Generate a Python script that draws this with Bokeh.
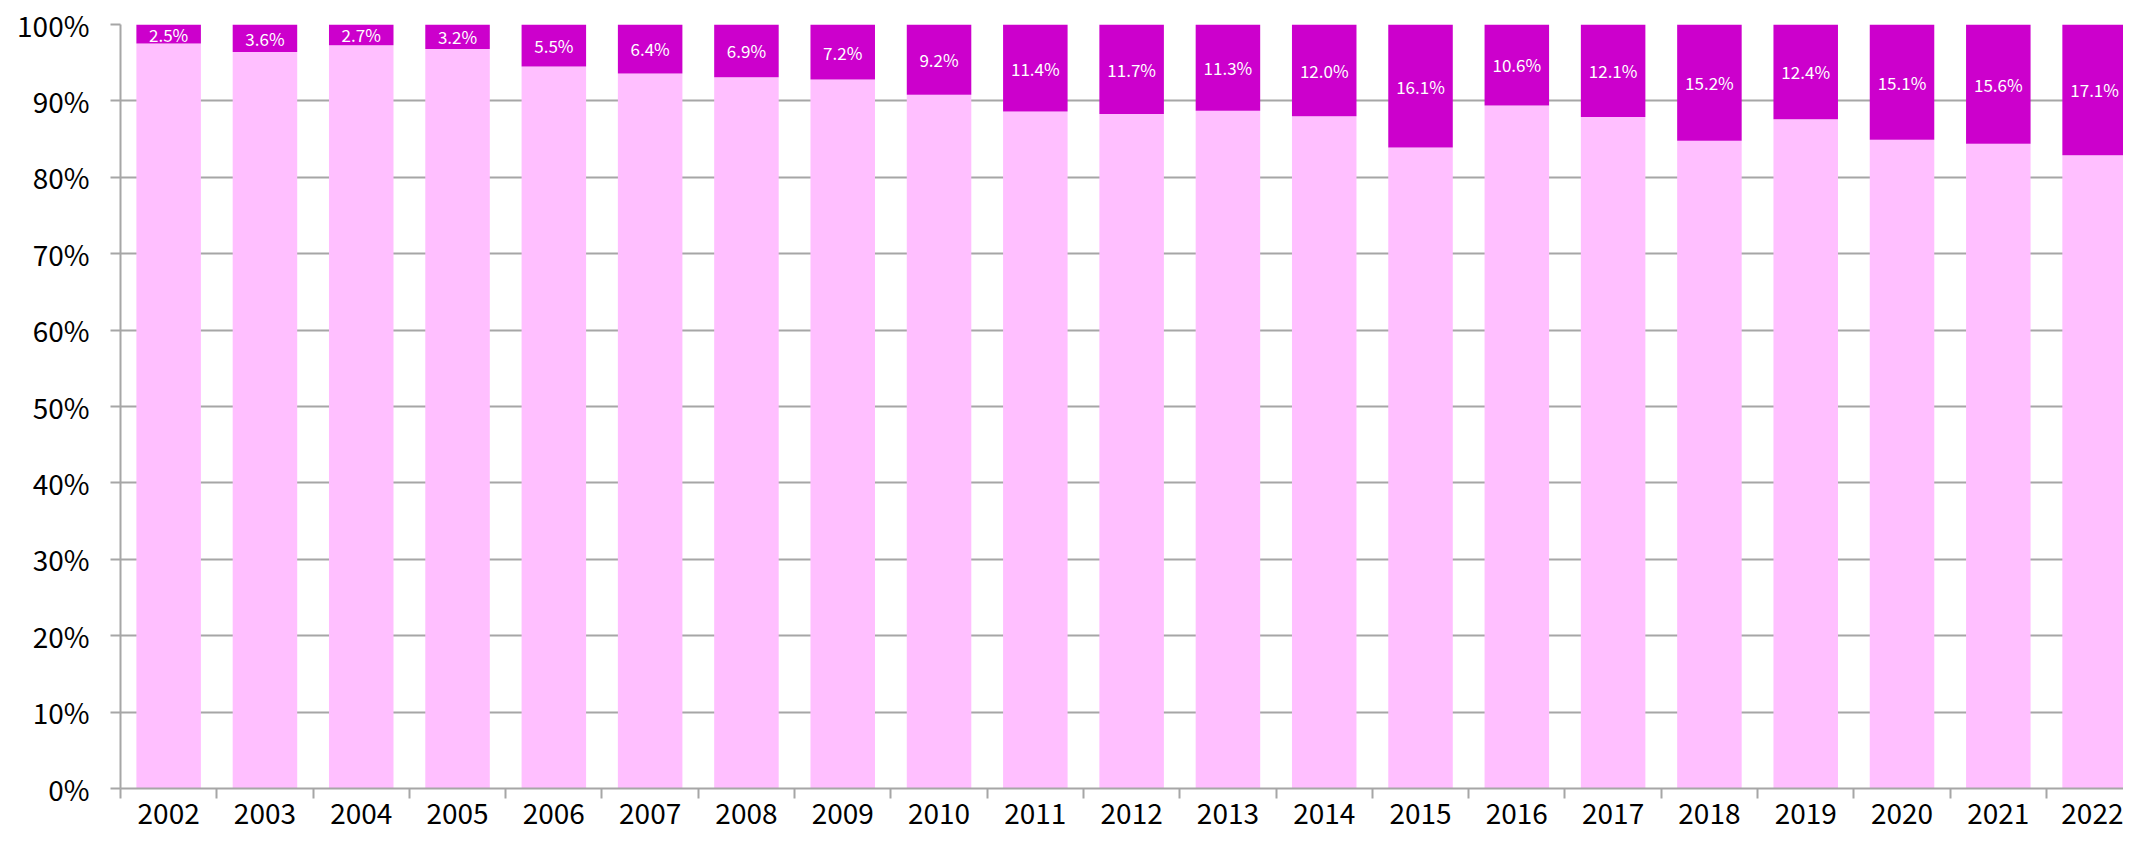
from bokeh.plotting import figure
from bokeh.models import ColumnDataSource, Range1d, FixedTicker, SingleIntervalTicker, PrintfTickFormatter
from bokeh.core.properties import value
from bokeh.embed import file_html
from bokeh.resources import INLINE

years = ["2002", "2003", "2004", "2005", "2006", "2007", "2008", "2009", "2010", "2011", "2012",
         "2013", "2014", "2015", "2016", "2017", "2018", "2019", "2020", "2021", "2022"]
top_share = [2.5, 3.6, 2.7, 3.2, 5.5, 6.4, 6.9, 7.2, 9.2, 11.4, 11.7,
             11.3, 12.0, 16.1, 10.6, 12.1, 15.2, 12.4, 15.1, 15.6, 17.1]
bottom_share = [round(100 - v, 1) for v in top_share]

FONT = "Noto Sans CJK TC"
GRAY = "#a6a6a6"

xs = list(range(len(years)))
src = ColumnDataSource(dict(
    x=xs,
    bottom_share=bottom_share,
    top_share=top_share,
    full=[100] * len(years),
    label_y=[b + t / 2 for b, t in zip(bottom_share, top_share)],
    label=[f"{t:.1f}%" for t in top_share],
))

p = figure(width=2123, height=832, output_backend="svg", toolbar_location=None,
           x_range=Range1d(-0.5, 20.3), y_range=Range1d(0, 100),
           min_border_left=120, min_border_right=0, min_border_top=24, min_border_bottom=44)
p.outline_line_color = None
p.background_fill_color = "white"
p.border_fill_color = "white"

p.vbar(x="x", top="bottom_share", bottom=0, width=0.67, source=src,
       fill_color="#ffbfff", line_color=None)
p.vbar(x="x", top="full", bottom="bottom_share", width=0.67, source=src,
       fill_color="#cc00cc", line_color=None)
p.text(x="x", y="label_y", text="label", source=src, text_align="center",
       text_baseline="middle", text_color="white", text_font=value(FONT),
       text_font_size="17px")

p.xgrid.grid_line_color = None
p.ygrid.grid_line_color = GRAY
p.ygrid.grid_line_width = 2
p.ygrid.ticker = SingleIntervalTicker(interval=10)

xa = p.xaxis[0]
xa.ticker = FixedTicker(ticks=xs, minor_ticks=[i + 0.5 for i in range(-1, len(years))])
xa.major_label_overrides = {i: y for i, y in enumerate(years)}
xa.major_tick_out = 0
xa.major_tick_in = 0
xa.minor_tick_out = 10
xa.minor_tick_in = 0
xa.minor_tick_line_color = GRAY
xa.minor_tick_line_width = 2
xa.axis_line_color = GRAY
xa.axis_line_width = 2
xa.major_label_standoff = 4
xa.major_label_text_font = FONT
xa.major_label_text_font_size = "28px"
xa.major_label_text_color = "black"

ya = p.yaxis[0]
ya.ticker = SingleIntervalTicker(interval=10)
ya.formatter = PrintfTickFormatter(format="%d%%")
ya.major_tick_out = 10
ya.major_tick_in = 0
ya.minor_tick_line_color = None
ya.major_tick_line_color = GRAY
ya.major_tick_line_width = 2
ya.axis_line_color = GRAY
ya.axis_line_width = 2
ya.major_label_standoff = 21
ya.major_label_text_font = FONT
ya.major_label_text_font_size = "28px"
ya.major_label_text_color = "black"

open("out.html", "w").write(file_html(p, INLINE))
